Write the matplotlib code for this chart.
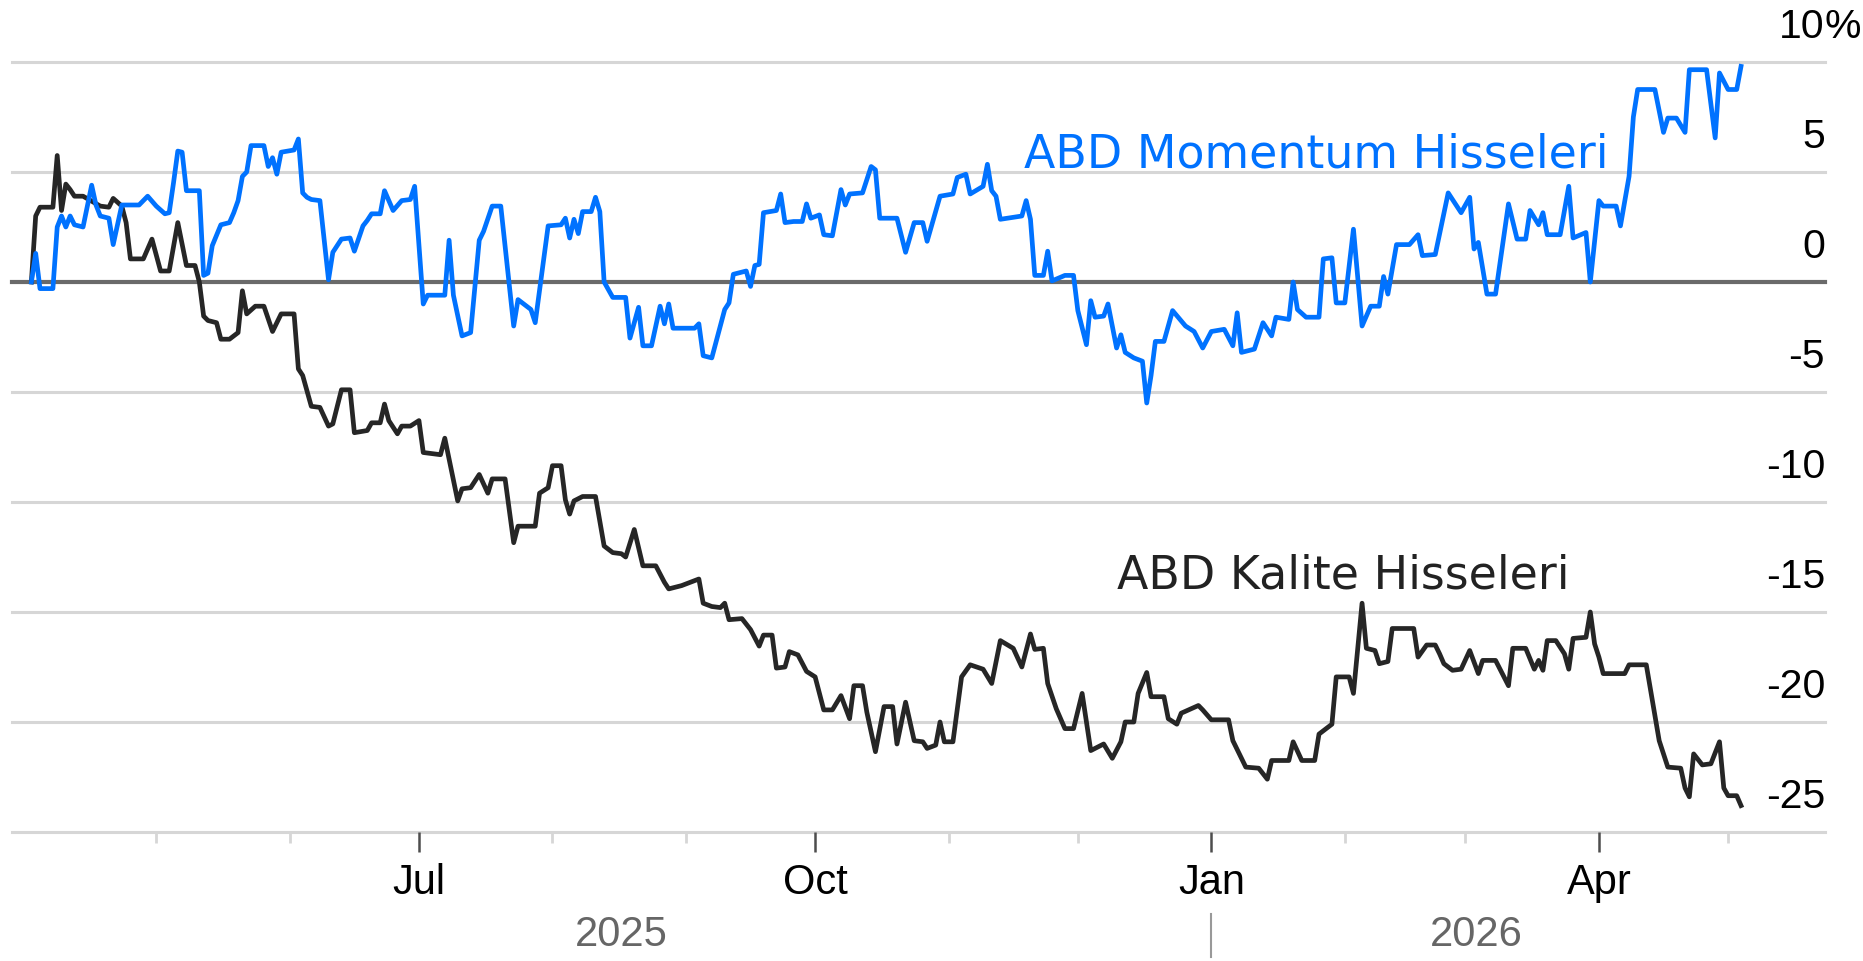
import matplotlib
matplotlib.use("Agg")
import matplotlib.dates as mdates
import matplotlib.pyplot as plt
import matplotlib.transforms as mtransforms
import pandas as pd

# cumulative return, %
momentum_dates = [
    "2025-04-02", "2025-04-03", "2025-04-04", "2025-04-07", "2025-04-08", "2025-04-09", "2025-04-10", "2025-04-11",
    "2025-04-12", "2025-04-14", "2025-04-16", "2025-04-17", "2025-04-18", "2025-04-20", "2025-04-21", "2025-04-23",
    "2025-04-27", "2025-04-29", "2025-05-01", "2025-05-03", "2025-05-04", "2025-05-05", "2025-05-06", "2025-05-07",
    "2025-05-08", "2025-05-11", "2025-05-12", "2025-05-13", "2025-05-14", "2025-05-16", "2025-05-18", "2025-05-19",
    "2025-05-20", "2025-05-21", "2025-05-22", "2025-05-23", "2025-05-26", "2025-05-27", "2025-05-28", "2025-05-29",
    "2025-05-30", "2025-06-02", "2025-06-03", "2025-06-04", "2025-06-05", "2025-06-06", "2025-06-08", "2025-06-10",
    "2025-06-11", "2025-06-13", "2025-06-15", "2025-06-16", "2025-06-18", "2025-06-19", "2025-06-20", "2025-06-22",
    "2025-06-23", "2025-06-24", "2025-06-25", "2025-06-27", "2025-06-29", "2025-06-30", "2025-07-02", "2025-07-03",
    "2025-07-07", "2025-07-08", "2025-07-09", "2025-07-11", "2025-07-13", "2025-07-15", "2025-07-16", "2025-07-18",
    "2025-07-20", "2025-07-23", "2025-07-24", "2025-07-27", "2025-07-28", "2025-07-31", "2025-08-03", "2025-08-04",
    "2025-08-05", "2025-08-06", "2025-08-07", "2025-08-08", "2025-08-10", "2025-08-11", "2025-08-12", "2025-08-13",
    "2025-08-15", "2025-08-18", "2025-08-19", "2025-08-21", "2025-08-22", "2025-08-24", "2025-08-26", "2025-08-27",
    "2025-08-28", "2025-08-29", "2025-09-03", "2025-09-04", "2025-09-05", "2025-09-07", "2025-09-10", "2025-09-11",
    "2025-09-12", "2025-09-15", "2025-09-16", "2025-09-17", "2025-09-18", "2025-09-19", "2025-09-22", "2025-09-23",
    "2025-09-24", "2025-09-26", "2025-09-28", "2025-09-29", "2025-09-30", "2025-10-02", "2025-10-03", "2025-10-05",
    "2025-10-07", "2025-10-08", "2025-10-09", "2025-10-12", "2025-10-14", "2025-10-15", "2025-10-16", "2025-10-20",
    "2025-10-22", "2025-10-24", "2025-10-26", "2025-10-27", "2025-10-30", "2025-11-02", "2025-11-03", "2025-11-05",
    "2025-11-06", "2025-11-09", "2025-11-10", "2025-11-11", "2025-11-12", "2025-11-13", "2025-11-18", "2025-11-19",
    "2025-11-20", "2025-11-21", "2025-11-23", "2025-11-24", "2025-11-25", "2025-11-28", "2025-11-30", "2025-12-01",
    "2025-12-03", "2025-12-04", "2025-12-05", "2025-12-07", "2025-12-08", "2025-12-10", "2025-12-11", "2025-12-12",
    "2025-12-14", "2025-12-16", "2025-12-17", "2025-12-18", "2025-12-19", "2025-12-21", "2025-12-23", "2025-12-26",
    "2025-12-28", "2025-12-30", "2026-01-01", "2026-01-04", "2026-01-06", "2026-01-07", "2026-01-08", "2026-01-11",
    "2026-01-13", "2026-01-15", "2026-01-16", "2026-01-19", "2026-01-20", "2026-01-21", "2026-01-23", "2026-01-26",
    "2026-01-27", "2026-01-29", "2026-01-30", "2026-02-01", "2026-02-03", "2026-02-05", "2026-02-07", "2026-02-09",
    "2026-02-10", "2026-02-11", "2026-02-13", "2026-02-16", "2026-02-18", "2026-02-19", "2026-02-22", "2026-02-25",
    "2026-02-28", "2026-03-02", "2026-03-03", "2026-03-04", "2026-03-06", "2026-03-08", "2026-03-11", "2026-03-13",
    "2026-03-15", "2026-03-16", "2026-03-18", "2026-03-19", "2026-03-20", "2026-03-23", "2026-03-25", "2026-03-26",
    "2026-03-29", "2026-03-30", "2026-04-01", "2026-04-02", "2026-04-05", "2026-04-06", "2026-04-08", "2026-04-09",
    "2026-04-10", "2026-04-14", "2026-04-16", "2026-04-17", "2026-04-19", "2026-04-21", "2026-04-22", "2026-04-26",
    "2026-04-28", "2026-04-29", "2026-05-01", "2026-05-03", "2026-05-04",
]
momentum_pct = [
    0.0, 1.3, -0.3, -0.3, 2.5, 3.0, 2.5, 3.0,
    2.6, 2.5, 4.4, 3.5, 3.0, 2.9, 1.7, 3.5,
    3.5, 3.9, 3.45, 3.1, 3.15, 4.5, 5.95, 5.9,
    4.15, 4.15, 0.3, 0.4, 1.65, 2.6, 2.7, 3.15,
    3.7, 4.8, 5.0, 6.2, 6.2, 5.25, 5.65, 4.9,
    5.9, 6.0, 6.5, 4.05, 3.85, 3.75, 3.7, 0.1,
    1.35, 1.95, 2.0, 1.4, 2.55, 2.8, 3.1, 3.1,
    4.15, 3.7, 3.25, 3.7, 3.75, 4.35, -1.0, -0.6,
    -0.6, 1.9, -0.6, -2.45, -2.3, 1.9, 2.3, 3.45,
    3.45, -2.0, -0.8, -1.25, -1.85, 2.55, 2.6, 2.9,
    2.0, 2.85, 2.2, 3.2, 3.2, 3.85, 3.2, 0.0,
    -0.7, -0.7, -2.55, -1.15, -2.9, -2.9, -1.1, -1.9,
    -1.0, -2.1, -2.1, -1.9, -3.35, -3.45, -1.25, -0.95,
    0.35, 0.5, -0.2, 0.75, 0.8, 3.15, 3.25, 4.0,
    2.7, 2.75, 2.75, 3.55, 2.9, 3.05, 2.15, 2.1,
    4.2, 3.5, 4.0, 4.05, 5.25, 5.1, 2.9, 2.9,
    1.35, 2.7, 2.7, 1.85, 3.9, 4.0, 4.75, 4.9,
    4.0, 4.35, 5.35, 4.15, 3.9, 2.85, 3.0, 3.7,
    2.85, 0.3, 0.3, 1.4, 0.05, 0.3, 0.3, -1.3,
    -2.85, -0.85, -1.6, -1.55, -1.0, -3.0, -2.4, -3.2,
    -3.45, -3.6, -5.5, -4.25, -2.7, -2.7, -1.3, -2.0,
    -2.25, -3.0, -2.25, -2.15, -2.9, -1.4, -3.2, -3.05,
    -1.85, -2.45, -1.6, -1.7, 0.0, -1.25, -1.6, -1.6,
    1.05, 1.1, -0.95, -0.95, 2.4, -2.0, -1.1, -1.1,
    0.25, -0.55, 1.7, 1.7, 2.15, 1.2, 1.25, 4.05,
    3.15, 3.85, 1.5, 1.8, -0.55, -0.55, 3.55, 1.95,
    1.95, 3.25, 2.6, 3.15, 2.15, 2.15, 4.35, 2.0,
    2.25, 0.0, 3.7, 3.45, 3.45, 2.55, 4.8, 7.5,
    8.75, 8.75, 6.8, 7.45, 7.45, 6.8, 9.65, 9.65,
    6.55, 9.5, 8.75, 8.75, 9.8,
]

quality_dates = [
    "2025-04-02", "2025-04-03", "2025-04-04", "2025-04-07", "2025-04-08", "2025-04-09", "2025-04-10", "2025-04-11",
    "2025-04-12", "2025-04-14", "2025-04-18", "2025-04-20", "2025-04-21", "2025-04-23", "2025-04-24", "2025-04-25",
    "2025-04-28", "2025-04-30", "2025-05-02", "2025-05-04", "2025-05-06", "2025-05-08", "2025-05-10", "2025-05-11",
    "2025-05-12", "2025-05-13", "2025-05-15", "2025-05-16", "2025-05-18", "2025-05-20", "2025-05-21", "2025-05-22",
    "2025-05-24", "2025-05-26", "2025-05-28", "2025-05-30", "2025-06-02", "2025-06-03", "2025-06-04", "2025-06-06",
    "2025-06-08", "2025-06-10", "2025-06-11", "2025-06-13", "2025-06-15", "2025-06-16", "2025-06-19", "2025-06-20",
    "2025-06-22", "2025-06-23", "2025-06-24", "2025-06-26", "2025-06-27", "2025-06-29", "2025-07-01", "2025-07-02",
    "2025-07-06", "2025-07-07", "2025-07-08", "2025-07-10", "2025-07-11", "2025-07-13", "2025-07-15", "2025-07-17",
    "2025-07-18", "2025-07-21", "2025-07-23", "2025-07-24", "2025-07-28", "2025-07-29", "2025-07-31", "2025-08-01",
    "2025-08-03", "2025-08-04", "2025-08-05", "2025-08-06", "2025-08-08", "2025-08-11", "2025-08-13", "2025-08-15",
    "2025-08-17", "2025-08-18", "2025-08-20", "2025-08-22", "2025-08-25", "2025-08-27", "2025-08-28", "2025-08-31",
    "2025-09-04", "2025-09-05", "2025-09-07", "2025-09-09", "2025-09-10", "2025-09-11", "2025-09-14", "2025-09-15",
    "2025-09-16", "2025-09-18", "2025-09-19", "2025-09-21", "2025-09-22", "2025-09-24", "2025-09-25", "2025-09-27",
    "2025-09-29", "2025-10-01", "2025-10-03", "2025-10-05", "2025-10-07", "2025-10-09", "2025-10-10", "2025-10-12",
    "2025-10-13", "2025-10-15", "2025-10-17", "2025-10-19", "2025-10-20", "2025-10-22", "2025-10-24", "2025-10-26",
    "2025-10-27", "2025-10-29", "2025-10-30", "2025-10-31", "2025-11-02", "2025-11-04", "2025-11-06", "2025-11-09",
    "2025-11-11", "2025-11-13", "2025-11-16", "2025-11-18", "2025-11-20", "2025-11-21", "2025-11-23", "2025-11-24",
    "2025-11-26", "2025-11-28", "2025-11-30", "2025-12-02", "2025-12-04", "2025-12-07", "2025-12-09", "2025-12-11",
    "2025-12-12", "2025-12-14", "2025-12-15", "2025-12-17", "2025-12-18", "2025-12-21", "2025-12-22", "2025-12-24",
    "2025-12-25", "2025-12-29", "2025-12-30", "2026-01-01", "2026-01-05", "2026-01-06", "2026-01-09", "2026-01-12",
    "2026-01-14", "2026-01-15", "2026-01-19", "2026-01-20", "2026-01-22", "2026-01-25", "2026-01-26", "2026-01-29",
    "2026-01-30", "2026-02-02", "2026-02-03", "2026-02-05", "2026-02-06", "2026-02-08", "2026-02-09", "2026-02-11",
    "2026-02-12", "2026-02-17", "2026-02-18", "2026-02-20", "2026-02-22", "2026-02-23", "2026-02-24", "2026-02-26",
    "2026-02-28", "2026-03-02", "2026-03-04", "2026-03-05", "2026-03-08", "2026-03-11", "2026-03-12", "2026-03-15",
    "2026-03-17", "2026-03-18", "2026-03-19", "2026-03-20", "2026-03-22", "2026-03-24", "2026-03-25", "2026-03-26",
    "2026-03-29", "2026-03-30", "2026-03-31", "2026-04-01", "2026-04-02", "2026-04-07", "2026-04-08", "2026-04-12",
    "2026-04-13", "2026-04-15", "2026-04-17", "2026-04-20", "2026-04-21", "2026-04-22", "2026-04-23", "2026-04-25",
    "2026-04-27", "2026-04-29", "2026-04-30", "2026-05-01", "2026-05-03", "2026-05-04",
]
quality_pct = [
    0.0, 3.0, 3.4, 3.4, 5.75, 3.25, 4.45, 4.2,
    3.9, 3.9, 3.45, 3.4, 3.8, 3.45, 2.7, 1.05,
    1.05, 1.95, 0.5, 0.5, 2.7, 0.75, 0.75, 0.0,
    -1.55, -1.75, -1.85, -2.6, -2.6, -2.3, -0.4, -1.45,
    -1.1, -1.1, -2.25, -1.45, -1.45, -3.95, -4.25, -5.65,
    -5.7, -6.55, -6.45, -4.9, -4.9, -6.85, -6.75, -6.4,
    -6.4, -5.55, -6.3, -6.9, -6.55, -6.55, -6.3, -7.75,
    -7.85, -7.1, -8.05, -9.95, -9.4, -9.35, -8.75, -9.6,
    -8.95, -8.95, -11.85, -11.1, -11.1, -9.6, -9.35, -8.35,
    -8.35, -9.9, -10.55, -9.95, -9.75, -9.75, -12.0, -12.3,
    -12.35, -12.5, -11.25, -12.9, -12.9, -13.65, -13.95, -13.8,
    -13.5, -14.6, -14.75, -14.8, -14.6, -15.35, -15.3, -15.55,
    -15.8, -16.55, -16.05, -16.05, -17.55, -17.5, -16.8, -16.95,
    -17.7, -17.95, -19.45, -19.45, -18.8, -19.85, -18.35, -18.35,
    -19.55, -21.35, -19.3, -19.3, -21.0, -19.1, -20.85, -20.9,
    -21.2, -21.05, -20.0, -20.9, -20.9, -17.95, -17.4, -17.6,
    -18.25, -16.3, -16.65, -17.5, -16.0, -16.7, -16.65, -18.25,
    -19.4, -20.3, -20.3, -18.7, -21.3, -21.0, -21.65, -20.9,
    -20.0, -20.0, -18.7, -17.75, -18.85, -18.85, -19.85, -20.1,
    -19.6, -19.25, -19.45, -19.9, -19.9, -20.85, -22.05, -22.1,
    -22.6, -21.75, -21.75, -20.9, -21.75, -21.75, -20.55, -20.1,
    -17.95, -17.95, -18.7, -14.6, -16.65, -16.75, -17.35, -17.25,
    -15.75, -15.75, -17.05, -16.5, -16.5, -16.9, -17.35, -17.65,
    -17.6, -16.75, -17.8, -17.2, -17.2, -18.35, -16.65, -16.65,
    -17.6, -17.2, -17.65, -16.3, -16.3, -16.9, -17.6, -16.2,
    -16.15, -15.0, -16.45, -17.05, -17.8, -17.8, -17.4, -17.4,
    -18.55, -20.85, -22.05, -22.1, -23.0, -23.4, -21.45, -21.95,
    -21.9, -20.9, -23.0, -23.35, -23.35, -23.8,
]

series_labels = ["ABD Momentum Hisseleri", "ABD Kalite Hisseleri"]
y_levels = [10, 5, 0, -5, -10, -15, -20, -25]
major_months = ["2025-07-01", "2025-10-01", "2026-01-01", "2026-04-01"]
minor_months = ["2025-05-01", "2025-06-01", "2025-08-01", "2025-09-01", "2025-11-01",
                "2025-12-01", "2026-02-01", "2026-03-01", "2026-05-01"]
year_labels = ["2025", "2026"]
year_split = "2026-01-01"

BLUE = "#0072ff"
DARK = "#262626"
GRID = "#d6d6d6"

plt.rcParams["font.family"] = ["Liberation Sans", "DejaVu Sans"]

mom = pd.Series(momentum_pct, index=pd.to_datetime(momentum_dates))
qual = pd.Series(quality_pct, index=pd.to_datetime(quality_dates))

fig = plt.figure(figsize=(18.63, 9.62), dpi=100)
ax = fig.add_axes([12 / 1863, 1 - 833 / 962, 1813 / 1863, 770 / 962])
ax.set_xlim(pd.Timestamp("2025-03-28 12:00"), pd.Timestamp("2026-05-23 12:00"))
ax.set_ylim(-25, 10)
for sp in ax.spines.values():
    sp.set_visible(False)
ax.set_yticks([])

for v in y_levels:
    if v == 0:
        ax.axhline(v, color="#6a6a6a", lw=3.0, zorder=1.5, clip_on=False)
    else:
        ax.axhline(v, color=GRID, lw=2.2, zorder=1, clip_on=False)

ax.plot(qual.index, qual.values, color=DARK, lw=3.4, zorder=3, clip_on=False)
ax.plot(mom.index, mom.values, color=BLUE, lw=3.4, zorder=4, clip_on=False)

# x axis: quarter labels, month ticks
ax.set_xticks(pd.to_datetime(major_months))
ax.set_xticks(pd.to_datetime(minor_months), minor=True)
ax.xaxis.set_major_formatter(mdates.DateFormatter("%b"))
ax.tick_params(axis="x", which="major", length=14.4, width=1.8, color="#4d4d4d",
               pad=7, labelsize=30, labelcolor="black")
ax.tick_params(axis="x", which="minor", length=8, width=2.0, color=GRID)

# right side value labels sitting above their gridlines
tf_y = mtransforms.blended_transform_factory(ax.transAxes, ax.transData)
for v in y_levels:
    ax.text(1.0, v + 1.14, str(v), transform=tf_y, ha="right", va="baseline", fontsize=29.5)
    if v == y_levels[0]:
        ax.text(1.0, v + 1.14, "%", transform=tf_y, ha="left", va="baseline", fontsize=29.5)

# year row with a divider at the new year
tf_yr = mtransforms.blended_transform_factory(ax.transData, fig.transFigure)
split = pd.Timestamp(year_split)
start, end = mom.index[0], mom.index[-1]
mids = [start + (split - start) / 2, split + (end - split) / 2]
for lab, m in zip(year_labels, mids):
    ax.text(mdates.date2num(m), 1 - 946 / 962, lab, transform=tf_yr, ha="center", va="baseline",
            fontsize=30, color="#666666")
xs = mdates.date2num(split)
ax.plot([xs, xs], [0.004, 0.049], transform=tf_yr, color="#999999", lw=1.5, clip_on=False)

# direct labels
ax.text(mdates.date2num(pd.Timestamp("2025-11-18 12:00")), 5.26, series_labels[0], color=BLUE,
        fontsize=33, family="DejaVu Sans", ha="left", va="baseline")
ax.text(mdates.date2num(pd.Timestamp("2025-12-10")), -13.88, series_labels[1], color="#222222",
        fontsize=33, family="DejaVu Sans", ha="left", va="baseline")

fig.savefig("out.png", dpi=100)
